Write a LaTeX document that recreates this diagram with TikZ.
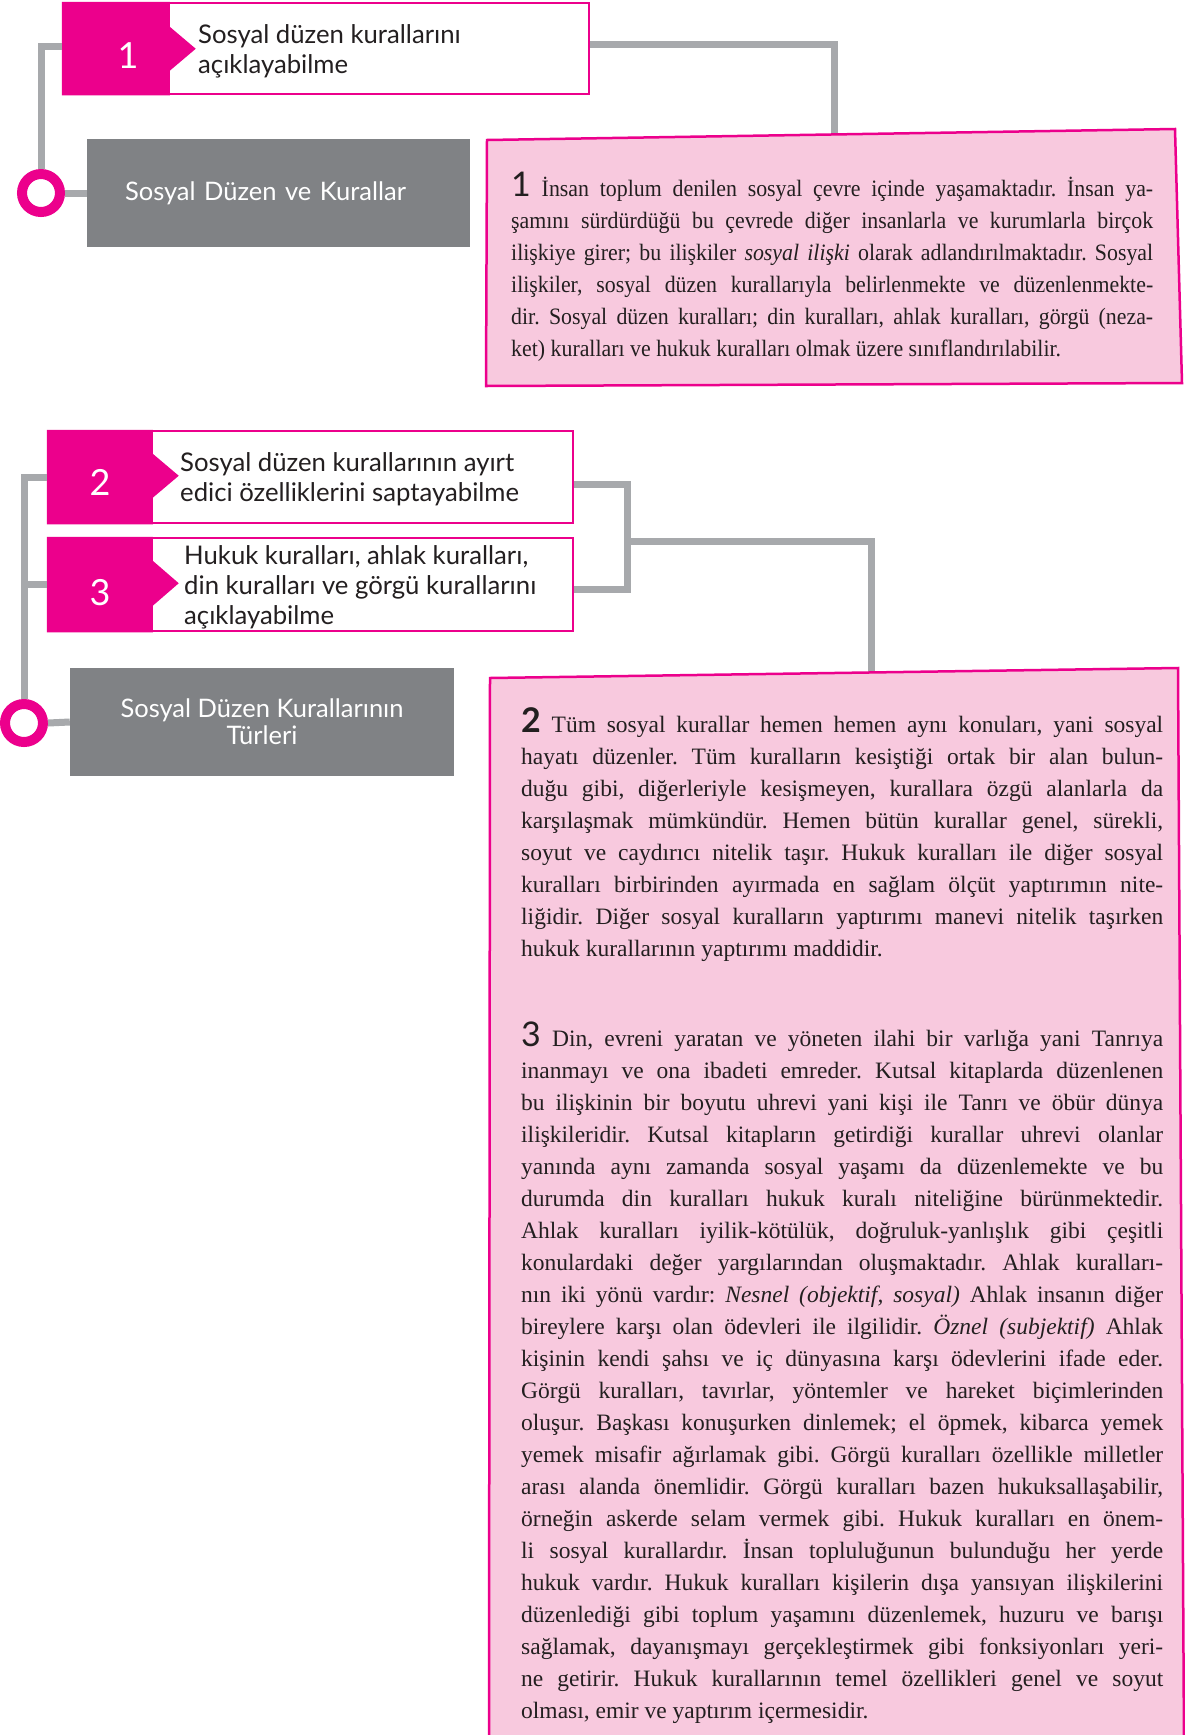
\documentclass[tikz,border=0pt]{standalone}
\usepackage{fontspec}
\setmainfont{Liberation Serif}
\newfontfamily\tightserif{Liberation Serif}[FakeStretch=0.93]
\newfontfamily\labelfont{Lato}
\definecolor{mag}{HTML}{EC008C}
\definecolor{notepink}{HTML}{F8C9DE}
\definecolor{topicgray}{HTML}{808285}
\definecolor{linkgray}{HTML}{A7A9AC}
\definecolor{ink}{HTML}{231F20}
\newcommand\jline[1]{\makebox[642pt][s]{\spaceskip=.25em plus 3em minus .06em\relax #1}\\}
\newcommand\pnum[1]{{\labelfont\fontsize{34}{32}\selectfont #1}}
\begin{document}
\begin{tikzpicture}[x=1pt, y=-1pt,
    goal/.style={draw=mag, line width=2.5pt, fill=white, minimum width=525pt, minimum height=92pt, inner sep=0pt},
    goaltext/.style={anchor=west, align=left, inner sep=0pt, text=ink, font=\labelfont\fontsize{25.7}{30}\selectfont},
    num/.style={inner sep=0pt, text=white, font=\labelfont\fontsize{36}{36}\selectfont},
    topic/.style={fill=topicgray, text=white, minimum height=108pt, inner sep=0pt, font=\labelfont\fontsize{25.5}{27}\selectfont},
    ring/.style={circle, draw=mag, line width=10pt, fill=white, minimum size=38pt, inner sep=0pt},
    link/.style={draw=linkgray, line width=7pt},
    note/.style={fill=notepink, draw=mag, line width=2.5pt},
    para/.style={anchor=base west, inner sep=0pt, text width=642pt, align=justify, text=ink, font=\frenchspacing\fontsize{23.5}{32}\selectfont},
  ]
    \fill[white] (0,0) rectangle (1185,1735);
    \useasboundingbox (0,0) rectangle (1185,1735);

    % First part: goal 1 and its topic
    \node[goal, minimum width=526pt, minimum height=91pt] (g1) at (326,48.5) {};
    \fill[mag] (g1.north west) -- ++(108,0) -- ++(0,25) -- ++(26,22) -- ++(-26,22) |- (g1.south west) -- cycle;
    \node[num] (n1) at (128,56) {1};
    \node[goaltext] (t1) at (198,51) {Sosyal düzen kurallarını\\açıklayabilme};
    \node[topic, minimum width=383pt, text width=307pt, align=left] (k1) at (278.5,193) {Sosyal Düzen ve Kurallar};
    \node[ring] (c1) at (41,193) {};
    \coordinate (p1top) at (834,136);

    % Second part: goals 2 and 3 and their topic
    \node[goal] (g2) at (310.5,477) {};
    \fill[mag] (g2.north west) -- ++(106,0) -- ++(0,24) -- ++(26,22) -- ++(-26,22) |- (g2.south west) -- cycle;
    \node[num] (n2) at (100,482) {2};
    \node[goaltext] (t2) at (180,479) {Sosyal düzen kurallarının ayırt\\edici özelliklerini saptayabilme};
    \node[goal, minimum height=93pt] (g3) at (310.5,584.5) {};
    \fill[mag] (g3.north west) -- ++(106,0) -- ++(0,24) -- ++(26,22.5) -- ++(-26,22.5) |- (g3.south west) -- cycle;
    \node[num] (n3) at (100,593) {3};
    \node[goaltext] (t3) at (184,587) {Hukuk kuralları, ahlak kuralları,\\din kuralları ve görgü kurallarını\\açıklayabilme};
    \node[topic, minimum width=384pt, align=center] (k2) at (262,722) {Sosyal Düzen Kurallarının\\Türleri};
    \node[ring] (c2) at (24,723) {};
    \coordinate (b23) at (627,541);
    \coordinate (p2top) at (871,676);

    % Connectors
    \draw[link] ([yshift=2pt]g1.west) -| (c1.north);
    \draw[link] (c1.east) -- (k1.west);
    \draw[link] ([yshift=4pt]g1.east) -| (p1top);
    \draw[link] (g2.west) -| (c2.north);
    \draw[link] (g3.west) -- (g3.west -| c2.north);
    \draw[link] (c2.east) -- (k2.west);
    \draw[link] ([yshift=-7pt]g2.east) -| ([xshift=53pt,yshift=-5pt]g3.east) -- ([yshift=-5pt]g3.east);
    \draw[link] (b23) -| (p2top);

    % Note cards
    \draw[note] (487,140) -- (1175,129) -- (1182,383) -- (486,386) -- cycle;
    \draw[note] (490,678) -- (1178,668) -- (1184,1745) -- (489,1745) -- cycle;

    \node[para, font=\tightserif\frenchspacing\fontsize{23.5}{32}\selectfont] (d1) at (511,196) {%
      \jline{\pnum{1} İnsan toplum denilen sosyal çevre içinde yaşamaktadır. İnsan ya-}
      \jline{şamını sürdürdüğü bu çevrede diğer insanlarla ve kurumlarla birçok}
      \jline{ilişkiye girer; bu ilişkiler \textit{sosyal ilişki} olarak adlandırılmaktadır. Sosyal}
      \jline{ilişkiler, sosyal düzen kurallarıyla belirlenmekte ve düzenlenmekte-}
      \jline{dir. Sosyal düzen kuralları; din kuralları, ahlak kuralları, görgü (neza-}
      ket) kuralları ve hukuk kuralları olmak üzere sınıflandırılabilir.};

    \node[para] (d2) at (521,732) {%
      \jline{\pnum{\bfseries 2} Tüm sosyal kurallar hemen hemen aynı konuları, yani sosyal}
      \jline{hayatı düzenler. Tüm kuralların kesiştiği ortak bir alan bulun-}
      \jline{duğu gibi, diğerleriyle kesişmeyen, kurallara özgü alanlarla da}
      \jline{karşılaşmak mümkündür. Hemen bütün kurallar genel, sürekli,}
      \jline{soyut ve caydırıcı nitelik taşır. Hukuk kuralları ile diğer sosyal}
      \jline{kuralları birbirinden ayırmada en sağlam ölçüt yaptırımın nite-}
      \jline{liğidir. Diğer sosyal kuralların yaptırımı manevi nitelik taşırken}
      hukuk kurallarının yaptırımı maddidir.};

    \node[para] (d3) at (521,1046) {%
      \jline{\pnum{3} Din, evreni yaratan ve yöneten ilahi bir varlığa yani Tanrıya}
      \jline{inanmayı ve ona ibadeti emreder. Kutsal kitaplarda düzenlenen}
      \jline{bu ilişkinin bir boyutu uhrevi yani kişi ile Tanrı ve öbür dünya}
      \jline{ilişkileridir. Kutsal kitapların getirdiği kurallar uhrevi olanlar}
      \jline{yanında aynı zamanda sosyal yaşamı da düzenlemekte ve bu}
      \jline{durumda din kuralları hukuk kuralı niteliğine bürünmektedir.}
      \jline{Ahlak kuralları iyilik-kötülük, doğruluk-yanlışlık gibi çeşitli}
      \jline{konulardaki değer yargılarından oluşmaktadır. Ahlak kuralları-}
      \jline{nın iki yönü vardır: \textit{Nesnel (objektif, sosyal)} Ahlak insanın diğer}
      \jline{bireylere karşı olan ödevleri ile ilgilidir. \textit{Öznel (subjektif)} Ahlak}
      \jline{kişinin kendi şahsı ve iç dünyasına karşı ödevlerini ifade eder.}
      \jline{Görgü kuralları, tavırlar, yöntemler ve hareket biçimlerinden}
      \jline{oluşur. Başkası konuşurken dinlemek; el öpmek, kibarca yemek}
      \jline{yemek misafir ağırlamak gibi. Görgü kuralları özellikle milletler}
      \jline{arası alanda önemlidir. Görgü kuralları bazen hukuksallaşabilir,}
      \jline{örneğin askerde selam vermek gibi. Hukuk kuralları en önem-}
      \jline{li sosyal kurallardır. İnsan topluluğunun bulunduğu her yerde}
      \jline{hukuk vardır. Hukuk kuralları kişilerin dışa yansıyan ilişkilerini}
      \jline{düzenlediği gibi toplum yaşamını düzenlemek, huzuru ve barışı}
      \jline{sağlamak, dayanışmayı gerçekleştirmek gibi fonksiyonları yeri-}
      \jline{ne getirir. Hukuk kurallarının temel özellikleri genel ve soyut}
      olması, emir ve yaptırım içermesidir.};
\end{tikzpicture}
\end{document}
